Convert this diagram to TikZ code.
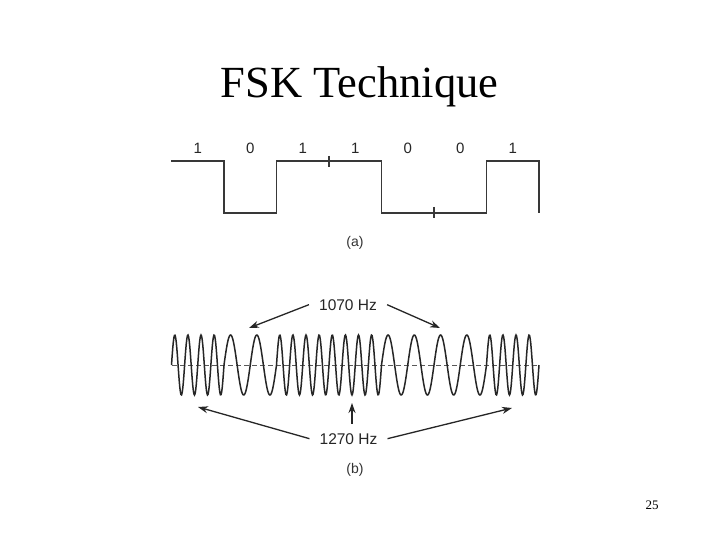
\documentclass[tikz,border=0pt]{standalone}
\usepackage{fontspec}
\setmainfont{Liberation Serif}
\newfontfamily\labelfont{Liberation Sans}
\usetikzlibrary{arrows.meta}
\tikzset{
  sqwave/.style={line width=1.6pt, draw=black!78},
  tickmark/.style={line width=1.4pt, draw=black!78},
  fsk/.style={line width=1.5pt, draw=black!85},
  axisline/.style={line width=1pt, draw=black!65, dash pattern=on 5pt off 3pt},
  bitlbl/.style={font=\labelfont\fontsize{15}{15}\selectfont, text=black!85, anchor=base, inner sep=0pt},
  caplbl/.style={font=\labelfont\fontsize{14}{14}\selectfont, text=black!80, inner sep=0pt},
  freqlbl/.style={font=\labelfont\fontsize{15.5}{15.5}\selectfont, text=black!85, anchor=base, inner xsep=10pt, inner ysep=3pt},
  arr/.style={line width=1.3pt, draw=black!85, -{Stealth[length=10pt,width=7pt]}},
}
\begin{document}
\begin{tikzpicture}[x=1pt,y=-1pt]
\useasboundingbox[fill=white] (0,0) rectangle (720,540);
% title and page number
\node[font=\fontsize{44.5}{44.5}\selectfont, anchor=base] (title) at (359.5,98) {FSK Technique};
\node[font=\fontsize{13}{13}\selectfont, anchor=base] (page) at (652,509) {25};
% (a) square wave
\draw[sqwave] (171,161) -- (224,161) -- (224,213) -- (276.5,213) -- (276.5,161)
  -- (381.5,161) -- (381.5,213) -- (486.5,213) -- (486.5,161) -- (539,161) -- (539,213);
\draw[tickmark] (329,156) -- (329,167);
\draw[tickmark] (434,207) -- (434,218);
\foreach \b [count=\i] in {1,0,1,1,0,0,1}{
  \node[bitlbl] (bit\i) at ({197.75+(\i-1)*52.5},154) {\b};
}
\node[caplbl] (capa) at (355,243) {(a)};
% (b) FSK signal
\draw[axisline] (172,365) -- (538,365);
\foreach \b [count=\i] in {1,0,1,1,0,0,1}{
  \pgfmathsetmacro{\xa}{171.5+(\i-1)*52.5}
  \pgfmathsetmacro{\xb}{\xa+52.5}
  \pgfmathsetmacro{\kk}{\b==1 ? 27.428571 : 13.714286}
  \draw[fsk] plot[domain=\xa:\xb, samples=90] (\x,{365-30*sin(\kk*(\x-\xa))});
}
\node[freqlbl] (f1070) at (348,310) {1070 Hz};
\node[freqlbl] (f1270) at (348.5,444) {1270 Hz};
\coordinate (t1) at (249,328);
\coordinate (t2) at (440,328);
\coordinate (t3) at (198,407);
\coordinate (t4) at (512,408);
\coordinate (t5) at (352,403);
\draw[arr] (f1070.west) -- (t1);
\draw[arr] (f1070.east) -- (t2);
\draw[arr] (f1270.west) -- (t3);
\draw[arr] (f1270.east) -- (t4);
\draw[arr, shorten <=6pt] (f1270.north -| t5) -- (t5);
\node[caplbl] (capb) at (355,470) {(b)};
\end{tikzpicture}
\end{document}
